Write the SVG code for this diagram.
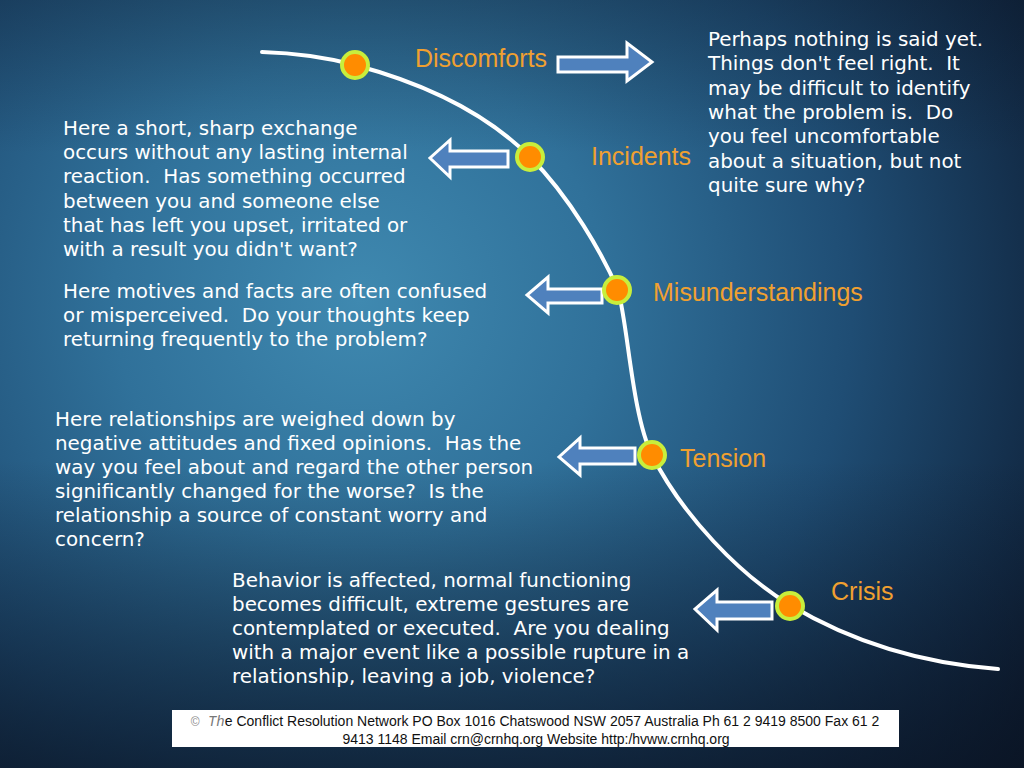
<svg xmlns="http://www.w3.org/2000/svg" width="1024" height="768" viewBox="0 0 1024 768">
<defs>
<radialGradient id="bg" cx="360" cy="300" r="820" gradientUnits="userSpaceOnUse">
<stop offset="0" stop-color="#3f89b0"/>
<stop offset="0.3" stop-color="#30719a"/>
<stop offset="0.6" stop-color="#1f4d74"/>
<stop offset="0.85" stop-color="#122a45"/>
<stop offset="1" stop-color="#0b1627"/>
</radialGradient>
<linearGradient id="shade" x1="0" y1="0" x2="0" y2="1">
<stop offset="0" stop-color="#0a1424" stop-opacity="0.3"/>
<stop offset="0.2" stop-color="#0a1424" stop-opacity="0"/>
<stop offset="0.6" stop-color="#0a1424" stop-opacity="0"/>
<stop offset="1" stop-color="#0a1424" stop-opacity="0.7"/>
</linearGradient>
</defs>
<style>
text{white-space:pre}
.body{font-family:"DejaVu Sans",Verdana,sans-serif;font-size:19.9px;fill:#ffffff}
.lbl{font-family:"Liberation Sans",Arial,sans-serif;font-size:25px;fill:#f0a030}
.arrow{fill:#4f81bd;stroke:#ffffff;stroke-width:3;stroke-linejoin:miter}
.dot{fill:#ff8c00;stroke:#c8ee3c;stroke-width:4}
.curve{fill:none;stroke:#ffffff;stroke-width:4;stroke-linecap:round}
.foot{font-family:"Liberation Sans",Arial,sans-serif;font-size:14px;fill:#111111}
</style>
<rect x="0" y="0" width="1024" height="768" fill="url(#bg)"/>
<rect x="0" y="0" width="1024" height="768" fill="url(#shade)"/>

<g id="connectors">
<path class="curve" d="M262,52 C295,53 325,57 355,65 C415,81 480,107 530,157 C570,197 603,255 618,290 C628,325 632,415 652,455 C682,515 740,575 790,605 C850,641 918,663 998,669"/>
<polygon class="arrow" points="558,57 627,57 627,43 652,62 627,81 627,72 558,72"/>
<polygon class="arrow" points="508,151 450,151 450,140 430,158 450,177 450,167 508,167"/>
<polygon class="arrow" points="602,289 548,289 548,277 527,295 548,313 548,303 602,303"/>
<polygon class="arrow" points="635,448 580,448 580,438 559,457 580,475 580,464 635,464"/>
<polygon class="arrow" points="772,602 717,602 717,590 695,609 717,630 717,619 772,619"/>
</g>

<g id="discomforts">
<circle class="dot" cx="355" cy="65" r="13"/>
<text class="lbl" x="415" y="67">Discomforts</text>
<text class="body" x="708" y="46">Perhaps nothing is said yet.</text>
<text class="body" x="708" y="70">Things don't feel right.  It</text>
<text class="body" x="708" y="95">may be difficult to identify</text>
<text class="body" x="708" y="119">what the problem is.  Do</text>
<text class="body" x="708" y="143">you feel uncomfortable</text>
<text class="body" x="708" y="168">about a situation, but not</text>
<text class="body" x="708" y="192">quite sure why?</text>
</g>

<g id="incidents">
<circle class="dot" cx="530" cy="157" r="13"/>
<text class="lbl" x="591" y="165">Incidents</text>
<text class="body" x="63" y="135">Here a short, sharp exchange</text>
<text class="body" x="63" y="159">occurs without any lasting internal</text>
<text class="body" x="63" y="183">reaction.  Has something occurred</text>
<text class="body" x="63" y="208">between you and someone else</text>
<text class="body" x="63" y="232">that has left you upset, irritated or</text>
<text class="body" x="63" y="256">with a result you didn't want?</text>
</g>

<g id="misunderstandings">
<circle class="dot" cx="617" cy="290" r="13"/>
<text class="lbl" x="653" y="301">Misunderstandings</text>
<text class="body" x="63" y="298">Here motives and facts are often confused</text>
<text class="body" x="63" y="322">or misperceived.  Do your thoughts keep</text>
<text class="body" x="63" y="346">returning frequently to the problem?</text>
</g>

<g id="tension">
<circle class="dot" cx="652" cy="455" r="13"/>
<text class="lbl" x="680" y="467">Tension</text>
<text class="body" x="55" y="426">Here relationships are weighed down by</text>
<text class="body" x="55" y="450">negative attitudes and fixed opinions.  Has the</text>
<text class="body" x="55" y="474">way you feel about and regard the other person</text>
<text class="body" x="55" y="498">significantly changed for the worse?  Is the</text>
<text class="body" x="55" y="522">relationship a source of constant worry and</text>
<text class="body" x="55" y="546">concern?</text>
</g>

<g id="crisis">
<circle class="dot" cx="790" cy="606" r="13"/>
<text class="lbl" x="831" y="600">Crisis</text>
<text class="body" x="232" y="587">Behavior is affected, normal functioning</text>
<text class="body" x="232" y="611">becomes difficult, extreme gestures are</text>
<text class="body" x="232" y="635">contemplated or executed.  Are you dealing</text>
<text class="body" x="232" y="659">with a major event like a possible rupture in a</text>
<text class="body" x="232" y="683">relationship, leaving a job, violence?</text>
</g>

<g id="footer">
<rect x="172" y="710" width="727" height="37" fill="#ffffff"/>
<text class="foot" x="535" y="726" text-anchor="middle"><tspan fill="#888888" font-size="12px">©</tspan><tspan fill="#777777" font-family="'Liberation Mono',monospace" font-style="italic"> Th</tspan>e Conflict Resolution Network PO Box 1016 Chatswood NSW 2057 Australia Ph 61 2 9419 8500 Fax 61 2</text>
<text class="foot" x="536" y="744" text-anchor="middle">9413 1148 Email crn@crnhq.org Website http:/hvww.crnhq.org</text>
</g>
</svg>
